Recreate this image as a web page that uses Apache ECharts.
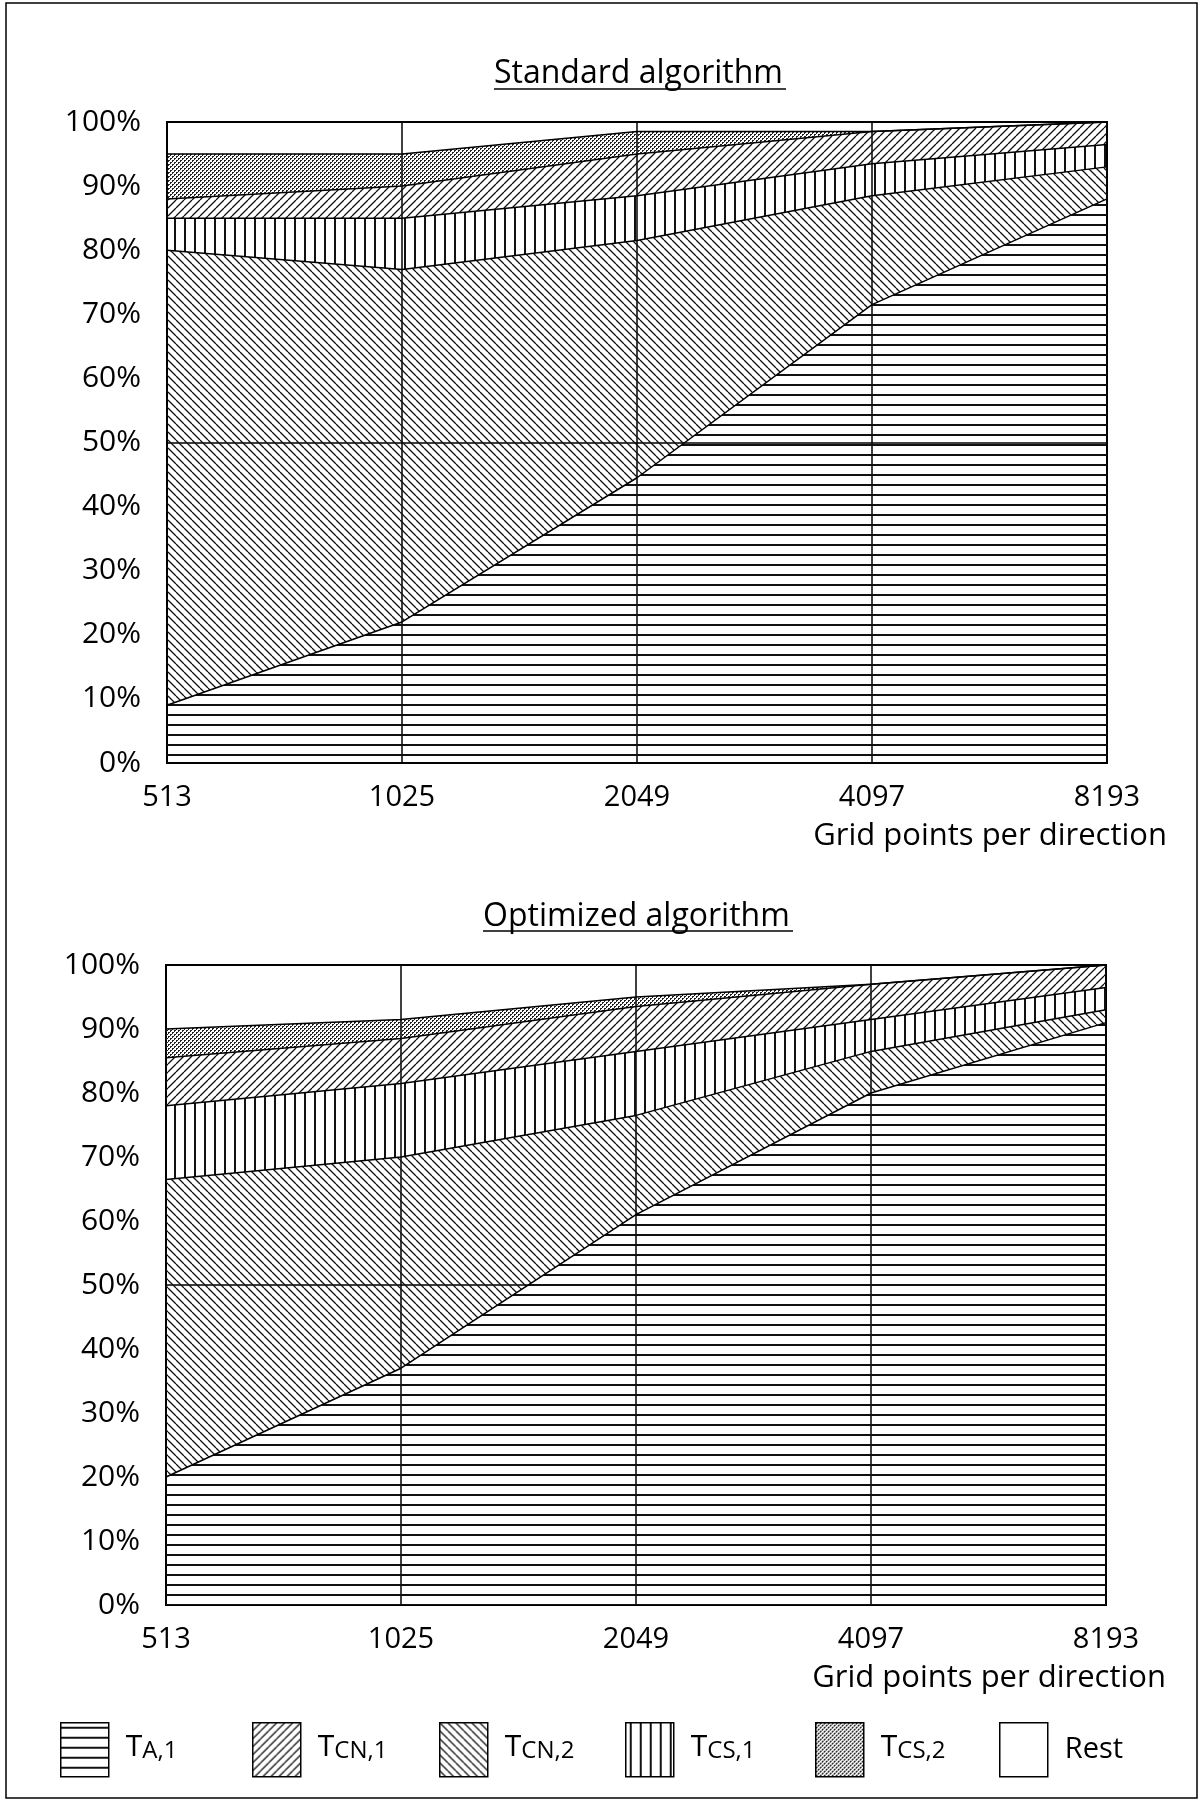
<!DOCTYPE html>
<html>
<head>
<meta charset="utf-8">
<script src="https://cdn.jsdelivr.net/npm/echarts@6/dist/echarts.min.js"></script>
<style>
  html, body { margin: 0; padding: 0; background: #fff; }
  #chart { width: 1203px; height: 1802px; }
</style>
</head>
<body>
<div id="chart"></div>
<script>
// grid sizes on the x axis
var gridPoints = ['513', '1025', '2049', '4097', '8193'];

// share of run time in %, standard algorithm
var stdTA1  = [9, 22, 44.5, 71.5, 88];
var stdTCN2 = [71, 55, 37, 17, 5];
var stdTCS1 = [5, 8, 7, 5, 3.5];
var stdTCN1 = [3, 5, 6.5, 5, 3.5];
var stdTCS2 = [7, 5, 3.5, 0, 0];
var stdRest = [5, 5, 1.5, 1.5, 0];

// share of run time in %, optimized algorithm
var optTA1  = [20, 37, 61, 80, 91];
var optTCN2 = [46.5, 33, 15.5, 6.5, 2];
var optTCS1 = [11.5, 11.5, 10, 5, 3.5];
var optTCN1 = [7.5, 7, 7, 5.5, 3.5];
var optTCS2 = [4.5, 3, 1.5, 0, 0];
var optRest = [10, 8.5, 5, 3, 0];

var legendNames = ['TA,1', 'TCN,1', 'TCN,2', 'TCS,1', 'TCS,2', 'Rest'];

var FONT = 'Open Sans';

function makeTile(w, h, draw) {
    var c = document.createElement('canvas');
    c.width = w;
    c.height = h;
    var ctx = c.getContext('2d');
    draw(ctx, w, h);
    return { image: c, repeat: 'repeat' };
}

var patterns = {
    'TA,1': makeTile(10, 10, function (ctx, w) {
        ctx.fillStyle = '#111';
        ctx.fillRect(0, 4, w, 2);
    }),
    'TCS,1': makeTile(10, 10, function (ctx, w, h) {
        ctx.fillStyle = '#111';
        ctx.fillRect(4, 0, 2, h);
    }),
    'TCN,2': makeTile(8, 8, function (ctx, s) {
        ctx.strokeStyle = '#111';
        ctx.lineWidth = 1.3;
        ctx.beginPath();
        for (var k = -1; k <= 1; k++) {
            ctx.moveTo(k * s, 0);
            ctx.lineTo(k * s + s, s);
        }
        ctx.stroke();
    }),
    'TCN,1': makeTile(8, 8, function (ctx, s) {
        ctx.strokeStyle = '#111';
        ctx.lineWidth = 1.3;
        ctx.beginPath();
        for (var k = -1; k <= 1; k++) {
            ctx.moveTo(k * s, s);
            ctx.lineTo(k * s + s, 0);
        }
        ctx.stroke();
    }),
    // stipple: small dot clusters on a diagonal lattice
    'TCS,2': makeTile(4, 4, function (ctx) {
        ctx.fillStyle = '#222';
        ctx.fillRect(0, 0, 2, 1);
        ctx.fillRect(0, 1, 1, 1);
        ctx.fillRect(2, 2, 2, 1);
        ctx.fillRect(2, 3, 1, 1);
    }),
    'Rest': '#fff'
};

function areaSeries(name, data, idx) {
    return {
        name: name,
        type: 'line',
        xAxisIndex: idx,
        yAxisIndex: idx * 2,
        stack: 'share' + idx,
        data: data,
        showSymbol: false,
        silent: true,
        lineStyle: { color: '#000', width: 1.5 },
        itemStyle: { color: '#000' },
        areaStyle: {
            color: name === 'Rest' ? 'rgba(0,0,0,0)' : patterns[name],
            opacity: 1
        }
    };
}

var series = [];
[
    [stdTA1, stdTCN2, stdTCS1, stdTCN1, stdTCS2, stdRest],
    [optTA1, optTCN2, optTCS1, optTCN1, optTCS2, optRest]
].forEach(function (set, idx) {
    series.push(areaSeries('TA,1', set[0], idx));
    series.push(areaSeries('TCN,2', set[1], idx));
    series.push(areaSeries('TCS,1', set[2], idx));
    series.push(areaSeries('TCN,1', set[3], idx));
    series.push(areaSeries('TCS,2', set[4], idx));
    series.push(areaSeries('Rest', set[5], idx));
});

var grids = [
    { left: 167, top: 122, width: 940, height: 641 },
    { left: 166, top: 965, width: 940, height: 640 }
];

var xAxes = [], yAxes = [];
grids.forEach(function (g, i) {
    xAxes.push({
        type: 'category',
        gridIndex: i,
        data: gridPoints,
        boundaryGap: false,
        name: 'Grid points per direction',
        nameLocation: 'end',
        nameGap: 60,
        nameTextStyle: {
            fontFamily: FONT, fontSize: 31, color: '#000',
            align: 'right', verticalAlign: 'top', padding: [58, 0, 0, 0]
        },
        axisLine: { lineStyle: { color: '#000', width: 2 } },
        axisTick: { show: false },
        axisLabel: { fontFamily: FONT, fontSize: 29, color: '#000', margin: 20 },
        splitLine: { show: true, lineStyle: { color: '#000', width: 1.5 } }
    });
    yAxes.push({
        type: 'value',
        gridIndex: i,
        min: 0,
        max: 100,
        interval: 10,
        axisLine: { show: true, lineStyle: { color: '#000', width: 2 } },
        axisTick: { show: false },
        axisLabel: { fontFamily: FONT, fontSize: 30, color: '#000', margin: 26, formatter: '{value}%' },
        splitLine: { show: false }
    });
    // only the 50% line is drawn inside the plot
    yAxes.push({
        type: 'value',
        gridIndex: i,
        min: 0,
        max: 100,
        interval: 50,
        position: 'right',
        axisLine: { show: false },
        axisTick: { show: false },
        axisLabel: { show: false },
        splitLine: { show: true, lineStyle: { color: '#000', width: 1.5 } }
    });
});

var legendLeft = [55, 247, 434, 620, 810, 994];
var legends = legendNames.map(function (n, i) {
    return {
        left: legendLeft[i],
        top: 1717,
        itemWidth: 48,
        itemHeight: 54,
        selectedMode: false,
        data: [{
            name: n,
            icon: 'rect',
            itemStyle: { color: patterns[n], borderColor: '#000', borderWidth: 1.5 }
        }],
        formatter: function (name) {
            if (name === 'Rest') return '{r|Rest}';
            return '{t|T}{s|' + name.slice(1) + '}';
        },
        textStyle: {
            fontFamily: FONT,
            color: '#000',
            rich: {
                t: { fontFamily: FONT, fontSize: 30, color: '#000', padding: [0, 0, 3, 12], lineHeight: 32, verticalAlign: 'bottom' },
                s: { fontFamily: FONT, fontSize: 24, color: '#000', padding: [0, 0, 3, 0], lineHeight: 32, verticalAlign: 'bottom' },
                r: { fontFamily: FONT, fontSize: 29, color: '#000', padding: [0, 0, 1, 12] }
            }
        }
    };
});

var titleStyle = { fontFamily: FONT, fontSize: 32, fontWeight: 'normal', color: '#000' };

var chart = echarts.init(document.getElementById('chart'));

var option = {
    animation: false,
    backgroundColor: '#fff',
    title: [
        { text: 'Standard algorithm', left: 494, top: 58, textStyle: titleStyle, padding: 0 },
        { text: 'Optimized algorithm', left: 483, top: 901, textStyle: titleStyle, padding: 0 }
    ],
    legend: legends,
    grid: grids.map(function (g) {
        return Object.assign({ show: true, borderColor: '#000', borderWidth: 2, containLabel: false }, g);
    }),
    xAxis: xAxes,
    yAxis: yAxes,
    series: series,
    graphic: [
        {
            type: 'rect',
            shape: { x: 6, y: 3, width: 1191, height: 1795 },
            style: { fill: 'none', stroke: '#000', lineWidth: 1.5 },
            silent: true
        },
        {
            type: 'line',
            shape: { x1: 494, y1: 89, x2: 786, y2: 89 },
            style: { stroke: '#000', lineWidth: 1.5 },
            silent: true
        },
        {
            type: 'line',
            shape: { x1: 483, y1: 931, x2: 793, y2: 931 },
            style: { stroke: '#000', lineWidth: 1.5 },
            silent: true
        }
    ]
};

chart.setOption(option);
</script>
</body>
</html>
